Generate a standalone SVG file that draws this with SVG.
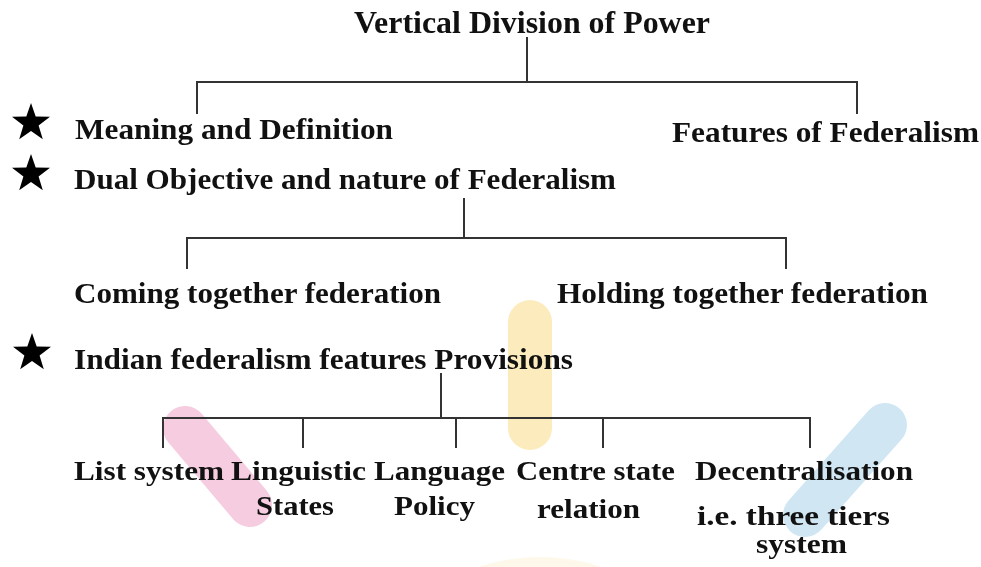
<svg xmlns="http://www.w3.org/2000/svg" width="981" height="567" viewBox="0 0 981 567">
<style>
.t{font-family:"Liberation Serif","Times New Roman",serif;font-weight:bold;font-size:30px;fill:#111}
.s{font-size:27px}
.h{font-size:31px}
.c{stroke:#333;stroke-width:2;fill:none;stroke-linecap:square}
.wm{fill:none;stroke-linecap:round;stroke-width:44}
</style>
<defs>
<path id="star" d="M0,-20 L4.7,-6.5 L19,-6.2 L7.6,2.5 L11.8,16.2 L0,8.1 L-11.8,16.2 L-7.6,2.5 L-19,-6.2 L-4.7,-6.5 Z" fill="#000"/>
</defs>
<rect width="981" height="567" fill="#fff"/>
<g id="watermark" opacity="0.7">
<line class="wm" x1="185" y1="428" x2="250" y2="505" stroke="#f2b8d3"/>
<line class="wm" x1="530" y1="322" x2="530" y2="428" stroke="#fbe3a0"/>
<line class="wm" x1="885" y1="425" x2="805" y2="515" stroke="#bcdcee"/>
<ellipse cx="540" cy="605" rx="100" ry="48" fill="#fbe6b0" opacity="0.35"/>
</g>
<g id="connectors">
<path class="c" d="M527,38 V82 M197,82 H857 M197,82 V113 M857,82 V113"/>
<path class="c" d="M464,199 V238 M187,238 H786 M187,238 V268 M786,238 V268"/>
<path class="c" d="M441,374 V418 M163,418 H810 M163,418 V447 M303,418 V447 M456,418 V447 M603,418 V447 M810,418 V447"/>
</g>
<g id="n-root"><text class="t h" x="354" y="33" textLength="356" lengthAdjust="spacingAndGlyphs">Vertical Division of Power</text></g>
<g id="n-meaning"><use href="#star" x="31" y="123"/><text class="t" x="75" y="139" textLength="318" lengthAdjust="spacingAndGlyphs">Meaning and Definition</text></g>
<g id="n-features"><text class="t" x="672" y="142" textLength="307" lengthAdjust="spacingAndGlyphs">Features of Federalism</text></g>
<g id="n-dual"><use href="#star" x="31" y="174"/><text class="t" x="74" y="189" textLength="542" lengthAdjust="spacingAndGlyphs">Dual Objective and nature of Federalism</text></g>
<g id="n-coming"><text class="t" x="74" y="303" textLength="367" lengthAdjust="spacingAndGlyphs">Coming together federation</text></g>
<g id="n-holding"><text class="t" x="557" y="303" textLength="371" lengthAdjust="spacingAndGlyphs">Holding together federation</text></g>
<g id="n-indian"><use href="#star" x="32" y="353"/><text class="t" x="74" y="369" textLength="499" lengthAdjust="spacingAndGlyphs">Indian federalism features Provisions</text></g>
<g id="n-list"><text class="t s" x="74" y="480" textLength="150" lengthAdjust="spacingAndGlyphs">List system</text></g>
<g id="n-linguistic"><text class="t s" x="231" y="480" textLength="135" lengthAdjust="spacingAndGlyphs">Linguistic</text><text class="t s" x="256" y="515" textLength="78" lengthAdjust="spacingAndGlyphs">States</text></g>
<g id="n-language"><text class="t s" x="374" y="480" textLength="131" lengthAdjust="spacingAndGlyphs">Language</text><text class="t s" x="394" y="515" textLength="81" lengthAdjust="spacingAndGlyphs">Policy</text></g>
<g id="n-centre"><text class="t s" x="516" y="480" textLength="159" lengthAdjust="spacingAndGlyphs">Centre state</text><text class="t s" x="537" y="518" textLength="103" lengthAdjust="spacingAndGlyphs">relation</text></g>
<g id="n-decentral"><text class="t s" x="695" y="480" textLength="218" lengthAdjust="spacingAndGlyphs">Decentralisation</text><text class="t s" x="697" y="525" textLength="193" lengthAdjust="spacingAndGlyphs">i.e. three tiers</text><text class="t s" x="756" y="553" textLength="91" lengthAdjust="spacingAndGlyphs">system</text></g>
</svg>
